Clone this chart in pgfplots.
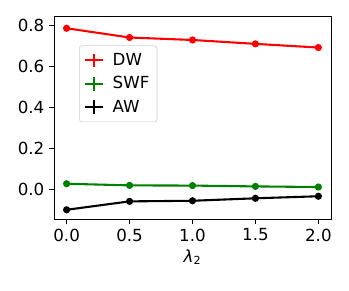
\documentclass[border=0pt]{standalone}
\usepackage{fontspec}
\setmainfont{DejaVu Sans}
\usepackage{pgfplots}
\pgfplotsset{compat=1.18}
\begin{document}
\begin{tikzpicture}
\path[use as bounding box] (-38.9pt,-51.8pt) rectangle (212.4pt,157.7pt);
\begin{axis}[
  at={(0,0)}, anchor=south west,
  scale only axis, width=199.4pt, height=146.2pt,
  xmin=-0.1, xmax=2.1, ymin=-0.143, ymax=0.847,
  xtick={0,0.5,1,1.5,2}, ytick={0,0.2,0.4,0.6,0.8},
  xticklabel style={/pgf/number format/.cd, fixed, fixed zerofill, precision=1},
  yticklabel style={/pgf/number format/.cd, fixed, fixed zerofill, precision=1},
  /pgf/number format/assume math mode=true,
  tick align=outside, tick pos=left,
  major tick length=3.5pt,
  every tick/.style={black, line width=0.6pt},
  axis line style={line width=0.6pt},
  ticklabel style={font=\fontsize{12}{14}\selectfont},
  xlabel={{\itshape λ}\textsubscript{2}},
  xlabel style={font=\fontsize{12}{14}\selectfont, yshift=1pt},
  legend style={at={(18pt,125pt)}, anchor=north west, draw=black!20, rounded corners=2pt,
    font=\fontsize{12}{14}\selectfont, row sep=2.5pt, inner sep=3.5pt},
  legend cell align=left,
  legend image code/.code={
    \draw[line width=1.5pt] (0cm,0cm) -- (0.46cm,0cm);
    \draw[line width=1.5pt] (0.23cm,-0.17cm) -- (0.23cm,0.17cm);
    \path (0.6cm,0cm);
  },
]
\addplot[red, line width=1.5pt, mark=*, mark size=1.8pt] coordinates {
(0,0.787) (0.5,0.742) (1.0,0.730) (1.5,0.711) (2.0,0.693)};
\addlegendentry{DW}
\addplot[line width=1.5pt, mark=*, mark size=1.8pt, color={rgb,1:red,0;green,0.5;blue,0}] coordinates {
(0,0.029) (0.5,0.021) (1.0,0.020) (1.5,0.016) (2.0,0.013)};
\addlegendentry{SWF}
\addplot[black, line width=1.5pt, mark=*, mark size=1.8pt] coordinates {
(0,-0.098) (0.5,-0.057) (1.0,-0.054) (1.5,-0.042) (2.0,-0.032)};
\addlegendentry{AW}
\end{axis}
\end{tikzpicture}
\end{document}
